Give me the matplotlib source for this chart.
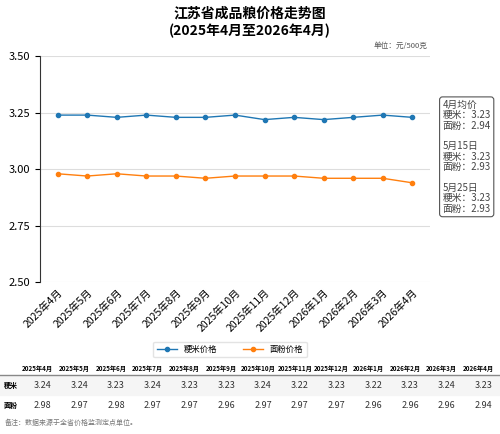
import matplotlib
matplotlib.use('Agg')
import matplotlib.pyplot as plt

plt.rcParams['font.family'] = ['Noto Sans CJK SC', 'DejaVu Sans']

months = ['2025年4月', '2025年5月', '2025年6月', '2025年7月', '2025年8月', '2025年9月',
          '2025年10月', '2025年11月', '2025年12月', '2026年1月', '2026年2月', '2026年3月', '2026年4月']
rice = [3.24, 3.24, 3.23, 3.24, 3.23, 3.23, 3.24, 3.22, 3.23, 3.22, 3.23, 3.24, 3.23]
flour = [2.98, 2.97, 2.98, 2.97, 2.97, 2.96, 2.97, 2.97, 2.97, 2.96, 2.96, 2.96, 2.94]
yticks = [2.50, 2.75, 3.00, 3.25, 3.50]
note = '4月均价\n粳米：3.23\n面粉：2.94\n\n5月15日\n粳米：3.23\n面粉：2.93\n\n5月25日\n粳米：3.23\n面粉：2.93'

fig = plt.figure(figsize=(5, 4.34), dpi=100)
ax = fig.add_axes([0.08, 0.35, 0.78, 0.52])
x = list(range(len(months)))
ax.plot(x, rice, color='#1f77b4', marker='o', markersize=3, lw=1, label='粳米价格')
ax.plot(x, flour, color='#ff7f0e', marker='o', markersize=3, lw=1, label='面粉价格')
ax.set_ylim(2.5, 3.5)
ax.set_yticks(yticks)
ax.set_yticklabels(['%.2f' % v for v in yticks], fontsize=8)
ax.set_xlim(-0.6, 12.6)
ax.set_xticks(x)
ax.set_xticklabels(months, rotation=45, ha='right', fontsize=7.5, rotation_mode='anchor')
ax.grid(axis='y', color='#dddddd', lw=0.8)
for s in ['top', 'right', 'bottom']:
    ax.spines[s].set_visible(False)
ax.spines['left'].set_color('#333333')
ax.tick_params(axis='x', length=0)

fig.text(0.5, 0.985, '江苏省成品粮价格走势图', ha='center', va='top', fontsize=10, fontweight='bold')
fig.text(0.5, 0.945, '(2025年4月至2026年4月)', ha='center', va='top', fontsize=10, fontweight='bold')
fig.text(0.855, 0.895, '单位：元/500克', ha='right', va='center', fontsize=5.5, color='#555555')
fig.text(0.885, 0.77, note, ha='left', va='top', fontsize=7, color='#444444', linespacing=1.05,
         bbox=dict(boxstyle='round,pad=0.3', fc='white', ec='#555555', lw=0.8))

fig.legend(loc='center', bbox_to_anchor=(0.46, 0.195), ncol=2, fontsize=6, frameon=True,
           edgecolor='#dddddd', handlelength=2.5, columnspacing=3)

# data table
colx = [0.075 + i * 0.0735 for i in range(13)]
for cx, m in zip(colx, months):
    fig.text(cx, 0.152, m, ha='center', va='center', fontsize=4.5, fontweight='bold')
fig.add_artist(plt.Line2D([0, 1], [0.135, 0.135], color='#888888', lw=1))
fig.add_artist(plt.Rectangle((0, 0.09), 1, 0.044, color='#f5f5f5', zorder=-1))
fig.text(0.008, 0.112, '粳米', ha='left', va='center', fontsize=5, fontweight='bold')
fig.text(0.008, 0.066, '面粉', ha='left', va='center', fontsize=5, fontweight='bold')
for cx, r, f in zip(colx, rice, flour):
    fig.text(cx + 0.01, 0.112, '%.2f' % r, ha='center', va='center', fontsize=6.5, color='#333333')
    fig.text(cx + 0.01, 0.066, '%.2f' % f, ha='center', va='center', fontsize=6.5, color='#333333')
fig.text(0.01, 0.025, '备注：数据来源于全省价格监测定点单位。', ha='left', va='center', fontsize=5, color='#777777')

fig.savefig('out.png', dpi=100)
